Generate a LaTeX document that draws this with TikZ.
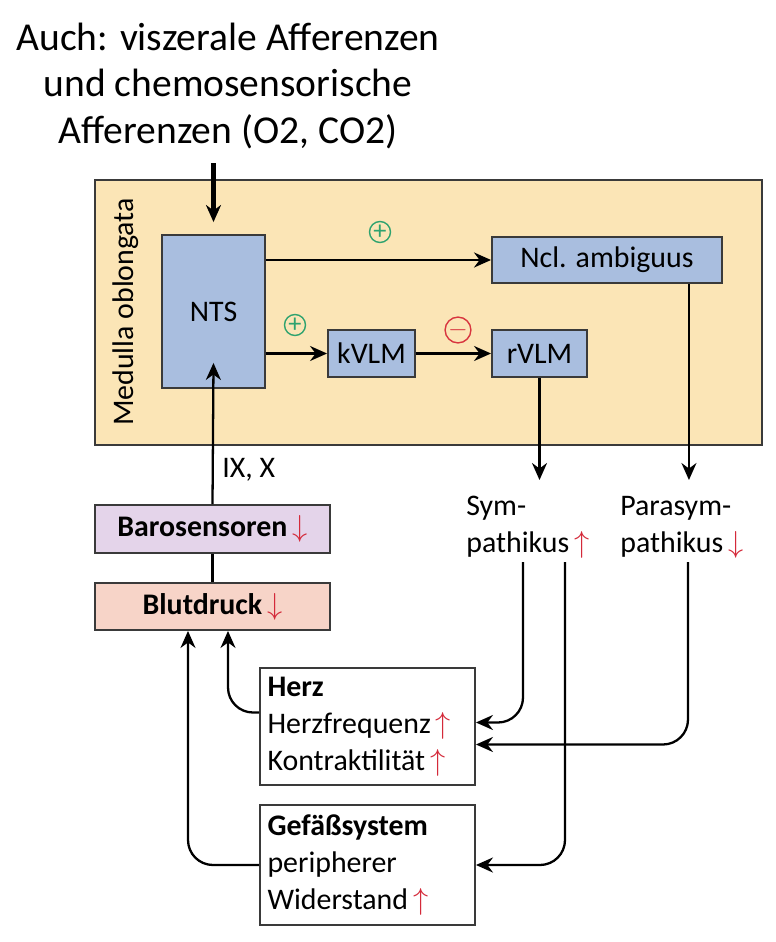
\documentclass[tikz,border=0pt]{standalone}
\usepackage{fontspec}
\setmainfont{Carlito}
\usetikzlibrary{arrows.meta,positioning,calc}

\definecolor{medyellow}{HTML}{FBE5B6}
\definecolor{nucblue}{HTML}{A9BEDF}
\definecolor{barolila}{HTML}{E4D4EA}
\definecolor{blutrosa}{HTML}{F7D4C8}
\definecolor{boxline}{HTML}{3A3A3A}
\definecolor{plusgreen}{HTML}{2FA36F}
\definecolor{minusred}{HTML}{D8363F}
\definecolor{pfeilrot}{HTML}{D42A3A}

\newcommand{\rauf}{\,{\color{pfeilrot}$\uparrow$}}
\newcommand{\runter}{\,{\color{pfeilrot}$\downarrow$}}

\tikzset{
  box/.style={draw=boxline, line width=1.1pt, inner sep=0pt,
    font=\fontsize{17}{21}\selectfont},
  nucleus/.style={box, fill=nucblue},
  organ/.style={box, fill=white, minimum width=4.3cm, align=left,
    text width=4.0cm},
  sign/.style={circle, draw=#1, text=#1, line width=0.8pt, inner sep=0pt,
    minimum size=0.42cm, font=\fontsize{15}{15}\selectfont},
  plain/.style={font=\fontsize{17}{21}\selectfont, align=left, inner sep=0pt},
  arr/.style={-{Stealth[length=3.4mm,width=3mm]}, line width=1.3pt},
}

\begin{document}
\begin{tikzpicture}[x=0.02cm, y=-0.02cm]
\useasboundingbox (0,0) rectangle (775,942);

% Kopftext
\node[align=center, inner sep=0pt, font=\fontsize{22.5}{26.5}\selectfont] (afferenz) at (228,86)
  {Auch: viszerale Afferenzen\\und chemosensorische\\Afferenzen (O2, CO2)};

% Medulla oblongata
\node[box, fill=medyellow, minimum width=13.34cm, minimum height=5.3cm] (medulla) at (428.5,312.5) {};
\node[plain, rotate=90] (medlabel) at (126,312) {Medulla oblongata};

\node[nucleus, minimum width=2.06cm, minimum height=3.06cm] (nts) at (213.5,311.5) {NTS};
\node[nucleus, minimum width=4.6cm, minimum height=0.92cm] (ncl) at (607,260) {Ncl. ambiguus};
\node[nucleus, minimum width=1.74cm, minimum height=0.94cm] (kvlm) at (371.5,353.5) {kVLM};
\node[nucleus, minimum width=1.9cm, minimum height=0.94cm] (rvlm) at (539.5,353.5) {rVLM};

\node[sign=plusgreen] (plusa) at (380,232) {+};
\node[sign=plusgreen] (plusb) at (295,325) {+};
\node[sign=minusred] (minus) at (458,330) {$-$};

\draw[arr, line width=2.4pt] ($(afferenz.south -| nts.north)+(0,14)$) -- ($(nts.north)+(0,-12)$);
\draw[arr] (nts.east |- ncl.west) -- (ncl.west);
\draw[arr] (nts.east |- kvlm.west) -- (kvlm.west);
\draw[arr] (kvlm.east) -- (rvlm.west);

% Rezeptoren und Kreislauf
\node[box, fill=barolila, minimum width=4.7cm, minimum height=0.96cm, font=\fontsize{17}{21}\selectfont\bfseries] (baro) at (212.5,529) {Barosensoren\runter};
\node[box, fill=blutrosa, minimum width=4.7cm, minimum height=0.94cm, font=\fontsize{17}{21}\selectfont\bfseries] (blut) at (212.5,606.5) {Blutdruck\runter};
\draw[line width=1.3pt] (baro.south) -- (blut.north);
\draw[arr] (baro.north) -- ($(nts.south)+(0,-26)$);
\node[plain, anchor=west] (nerven) at (222,470) {IX, X};

% vegetative Efferenzen
\node[plain, anchor=north west] (sym) at (466,496) {Sym-\\pathikus\rauf};
\node[plain, anchor=north west] (para) at (620,496) {Parasym-\\pathikus\runter};
\coordinate (paraab) at ($(ncl.south east)+(-34,0)$);
\draw[arr] (rvlm.south) -- ($(rvlm.south |- sym.north)+(0,-16)$);
\draw[arr] (paraab) -- ($(paraab |- para.north)+(0,-16)$);

% Erfolgsorgane
\node[organ, minimum height=2.34cm] (herz) at (367.5,726.5)
  {\textbf{Herz}\\Herzfrequenz\rauf\\Kontraktilität\rauf};
\node[organ, minimum height=2.4cm] (gefaess) at (367.5,865)
  {\textbf{Gefäßsystem}\\peripherer\\Widerstand\rauf};

\coordinate (syma) at (523,562);
\coordinate (symb) at (565,562);
\coordinate (parab) at (688,562);
\draw[arr, rounded corners=0.5cm] (syma) |- ($(herz.east)+(0,-4)$);
\draw[arr, rounded corners=0.5cm] (parab) |- ($(herz.east)+(0,18)$);
\draw[arr, rounded corners=0.5cm] (symb) |- (gefaess.east);
\draw[arr, rounded corners=0.5cm] ($(herz.west)+(0,-14)$) -| ($(blut.south)+(15.5,0)$);
\draw[arr, rounded corners=0.5cm] (gefaess.west) -| ($(blut.south)+(-24.5,0)$);
\end{tikzpicture}
\end{document}
